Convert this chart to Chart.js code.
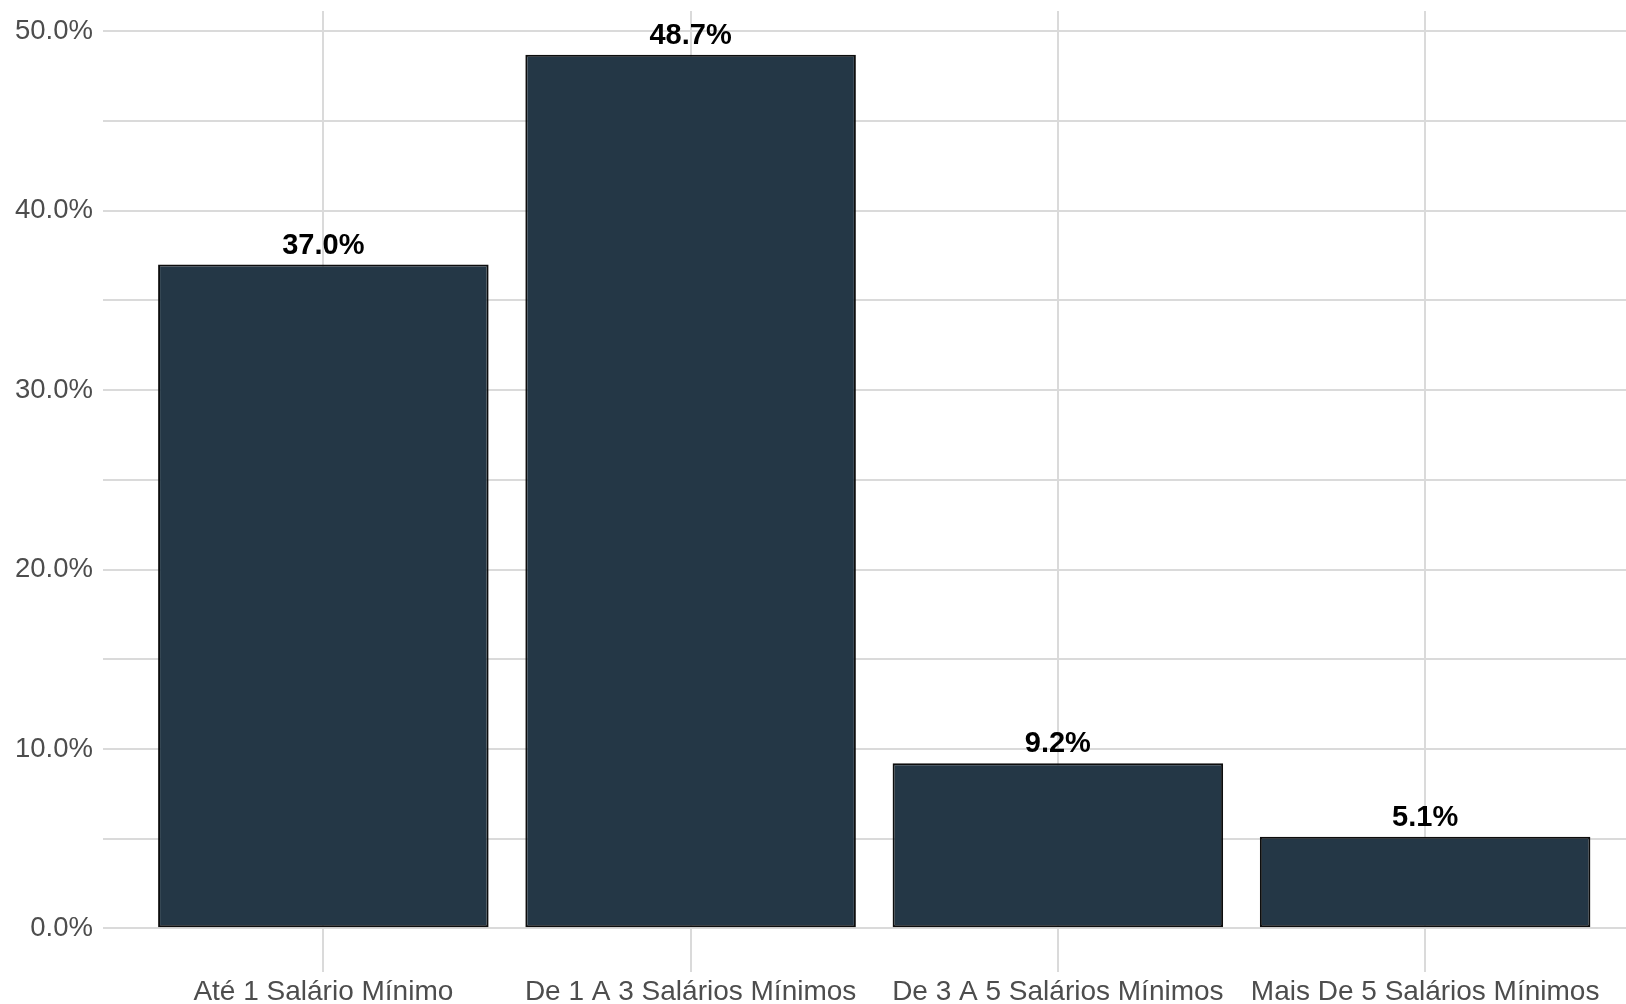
<!DOCTYPE html>
<html>
<head>
  <meta http-equiv="Content-type" content="text/html; charset=utf-8">
  <title>Faixa salarial</title>
  <style>
    html, body { margin: 0; padding: 0; background: #ffffff; }
    canvas { display: block; }
  </style>
</head>
<body>
  <canvas id="canvas" width="1626" height="1004"></canvas>

  <script src="https://cdn.jsdelivr.net/npm/chart.js"></script>

  <script>
    // Dados
    const categorias = [
      'Até 1 Salário Mínimo',
      'De 1 A 3 Salários Mínimos',
      'De 3 A 5 Salários Mínimos',
      'Mais De 5 Salários Mínimos'
    ];
    const percentuais = [37.0, 48.7, 9.2, 5.1];
    const yTicks = [0, 5, 10, 15, 20, 25, 30, 35, 40, 45, 50];

    const fonte = "'Liberation Sans', Arial, sans-serif";
    const corGrade = '#dadada';

    // rótulos em cima das barras
    const rotulosBarras = {
      id: 'rotulosBarras',
      afterDatasetsDraw(chart) {
        const ctx = chart.ctx;
        const meta = chart.getDatasetMeta(0);
        ctx.save();
        ctx.font = 'bold 29px ' + fonte;
        ctx.fillStyle = '#000000';
        ctx.textAlign = 'center';
        ctx.textBaseline = 'alphabetic';
        meta.data.forEach((bar, i) => {
          ctx.fillText(percentuais[i].toFixed(1) + '%', bar.x, bar.y - 11);
        });
        ctx.restore();
      }
    };

    const ctx = document.getElementById('canvas').getContext('2d');

    const chart = new Chart(ctx, {
      type: 'bar',
      data: {
        datasets: [{
          data: percentuais.map((v, i) => ({ x: i, y: v })),
          backgroundColor: '#243746',
          borderColor: '#0d0d0d',
          borderWidth: 2,
          borderSkipped: false,
          barPercentage: 0.9,
          categoryPercentage: 1.0
        }]
      },
      options: {
        responsive: false,
        devicePixelRatio: 1,
        animation: false,
        layout: { padding: { top: 11, left: 0, right: 0, bottom: 0 } },
        plugins: {
          legend: { display: false },
          tooltip: { enabled: false }
        },
        scales: {
          x: {
            type: 'linear',
            min: -0.6,
            max: 3.547,
            offset: false,
            afterBuildTicks: (scale) => {
              scale.ticks = categorias.map((c, i) => ({ value: i }));
            },
            afterFit: (scale) => {
              scale.height = 32;
              scale.paddingLeft = 0;
              scale.paddingRight = 0;
            },
            grid: { color: corGrade, lineWidth: 2, offset: false, drawTicks: false },
            border: { display: false },
            ticks: {
              autoSkip: false,
              maxRotation: 0,
              padding: 3,
              color: '#4d4d4d',
              font: { family: fonte, size: 28 },
              callback: (v) => categorias[v]
            }
          },
          y: {
            type: 'linear',
            min: -2.435,
            max: 51.135,
            afterBuildTicks: (scale) => {
              scale.ticks = yTicks.map(v => ({ value: v }));
            },
            afterFit: (scale) => {
              scale.width = 103;
              scale.paddingTop = 0;
              scale.paddingBottom = 0;
            },
            grid: { color: corGrade, lineWidth: 2, drawTicks: false },
            border: { display: false },
            ticks: {
              padding: 10,
              color: '#4d4d4d',
              font: { family: fonte, size: 27.5 },
              callback: (v) => (v % 10 === 0 ? v.toFixed(1) + '%' : '')
            }
          }
        }
      },
      plugins: [rotulosBarras]
    });
  </script>
</body>
</html>
